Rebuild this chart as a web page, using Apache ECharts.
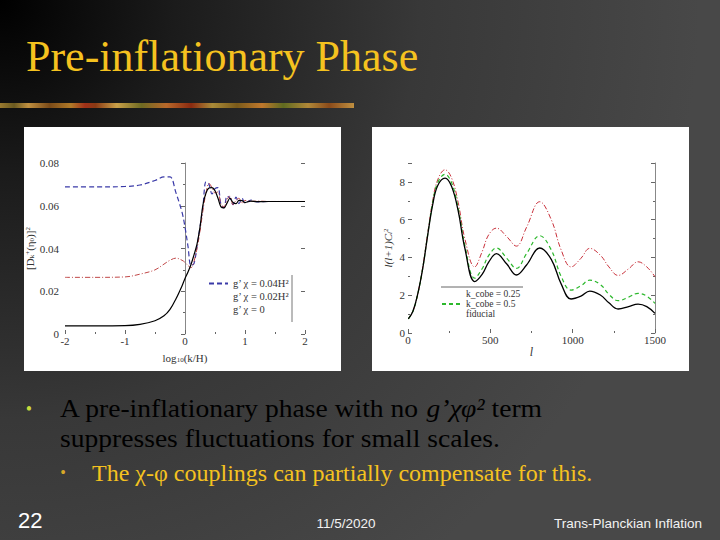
<!DOCTYPE html>
<html><head><meta charset="utf-8">
<script src="https://cdn.jsdelivr.net/npm/echarts@6/dist/echarts.min.js"></script>
<style>html,body{margin:0;padding:0;background:#474747;}#c{width:720px;height:540px;}</style>
</head><body><div id="c"></div>
<script>
// ---- Left panel: |D_k(eta0)|^2 vs log10(k/H) ----
const logK = [-2, -1.5, -1, -0.75, -0.5, -0.35, -0.25, -0.15, -0.05, 0, 0.05, 0.1, 0.15, 0.2, 0.25, 0.3, 0.35, 0.4, 0.45, 0.5, 0.55, 0.6, 0.65, 0.7, 0.75, 0.8, 0.85, 0.9, 0.95, 1.0, 1.1, 1.2, 1.4, 2];
const spec004 = [0.0688, 0.0688, 0.069, 0.0697, 0.0718, 0.0735, 0.0735, 0.066, 0.057, 0.050, 0.041, 0.032, 0.033, 0.041, 0.050, 0.060, 0.0712, 0.070, 0.0655, 0.068, 0.0685, 0.0605, 0.059, 0.0645, 0.0635, 0.0605, 0.064, 0.061, 0.0635, 0.0612, 0.0627, 0.0618, 0.062, 0.062];
const spec002 = [0.0265, 0.0265, 0.0267, 0.028, 0.030, 0.0327, 0.0345, 0.0355, 0.0345, 0.0335, 0.032, 0.031, 0.034, 0.040, 0.048, 0.058, 0.066, 0.0705, 0.0685, 0.066, 0.0665, 0.0605, 0.0595, 0.063, 0.0645, 0.0605, 0.0625, 0.0635, 0.061, 0.0625, 0.062, 0.0622, 0.062, 0.062];
const spec000 = [0.0038, 0.0038, 0.0039, 0.0045, 0.0062, 0.0085, 0.0115, 0.0165, 0.0225, 0.026, 0.029, 0.0325, 0.037, 0.042, 0.050, 0.0605, 0.066, 0.0683, 0.0685, 0.067, 0.0635, 0.0595, 0.059, 0.0612, 0.0635, 0.0615, 0.061, 0.0625, 0.0624, 0.0615, 0.0622, 0.0619, 0.062, 0.062];
const leftNames = ['g’ χ = 0.04H²', 'g’ χ = 0.02H²', 'g’ χ = 0'];

// ---- Right panel: l(l+1)C_l vs l ----
const ell = [2, 30, 60, 90, 120, 150, 180, 225, 265, 305, 345, 405, 450, 490, 537, 600, 658, 720, 800, 870, 930, 990, 1050, 1104, 1170, 1220, 1276, 1340, 1397, 1450, 1500];
const clCobe025 = [0.75, 1.15, 2.1, 3.5, 5.3, 7.0, 8.1, 8.64, 8.2, 6.9, 5.0, 3.5, 4.3, 5.2, 5.55, 5.1, 4.6, 5.6, 6.95, 6.0, 4.4, 3.5, 3.95, 4.48, 4.1, 3.5, 3.05, 3.4, 3.77, 3.5, 2.98];
const clCobe05 = [0.75, 1.15, 2.1, 3.45, 5.25, 6.9, 7.95, 8.4, 7.95, 6.6, 4.65, 2.9, 3.4, 4.1, 4.5, 3.95, 3.42, 4.2, 5.15, 4.4, 3.0, 2.27, 2.5, 2.8, 2.55, 2.05, 1.71, 1.9, 2.1, 1.95, 1.57];
const clFiducial = [0.75, 1.15, 2.1, 3.45, 5.2, 6.8, 7.8, 8.2, 7.75, 6.45, 4.5, 2.72, 3.1, 3.75, 4.2, 3.65, 3.07, 3.6, 4.5, 3.9, 2.6, 1.8, 1.95, 2.22, 2.0, 1.6, 1.27, 1.4, 1.53, 1.4, 1.04];
const rightNames = ['k_cobe = 0.25', 'k_cobe = 0.5', 'fiducial'];

// ---- Slide text ----
const slideTitle = 'Pre-inflationary Phase';
const footerLeft = '22';
const footerDate = '11/5/2020';
const footerRight = 'Trans-Planckian Inflation';

const SERIF = '"Liberation Serif", "Times New Roman", serif';
const SANS = '"Liberation Sans", Arial, sans-serif';
const GOLD = '#F5C21F';
const pair = (xs, ys) => xs.map((x, i) => [x, ys[i]]);

const chart = echarts.init(document.getElementById('c'), null, {renderer: 'svg', width: 720, height: 540});

const axisLbl = {fontFamily: SERIF, fontSize: 11, color: '#333', formatter: v => String(v)};
const tickStyle = {color: '#666', width: 1};
const hideSym = {opacity: 0};
const hideAll = {lineStyle: {opacity: 0}, itemStyle: {opacity: 0}};

const option = {
  backgroundColor: '#474747',
  animation: false,
  title: {
    text: slideTitle, left: 26, top: 34, padding: 0,
    textStyle: {fontFamily: SERIF, fontSize: 44, fontWeight: 'normal', color: GOLD}
  },
  graphic: [
    {type: 'rect', z: -100, silent: true, shape: {x: 0, y: 0, width: 720, height: 540},
      style: {fill: {type: 'radial', x: 0, y: 0, r: 700, global: true,
        colorStops: [{offset: 0, color: '#000'}, {offset: 0.25, color: '#1b1b1b'}, {offset: 0.6, color: '#383838'}, {offset: 1, color: '#484848'}]}}},
    {type: 'rect', z: -90, silent: true, shape: {x: 0, y: 103, width: 354, height: 5},
      style: {fill: {type: 'linear', x: 0, y: 0, x2: 1, y2: 0,
        colorStops: [
          {offset: 0, color: '#9a7a30'}, {offset: 0.04, color: '#6a5a20'}, {offset: 0.08, color: '#c09040'}, {offset: 0.14, color: '#7a4a18'},
          {offset: 0.2, color: '#b07a28'}, {offset: 0.24, color: '#a03018'}, {offset: 0.27, color: '#8a3a14'}, {offset: 0.33, color: '#c9a048'},
          {offset: 0.4, color: '#6e6a22'}, {offset: 0.47, color: '#b8682a'}, {offset: 0.54, color: '#8a2a10'},
          {offset: 0.6, color: '#a88a38'}, {offset: 0.67, color: '#7a5a1a'}, {offset: 0.74, color: '#c0782c'},
          {offset: 0.8, color: '#5f6a20'}, {offset: 0.87, color: '#b08838'}, {offset: 0.93, color: '#8a4a1a'},
          {offset: 1, color: '#c09040'}]}}},
    {type: 'rect', z: -50, silent: true, shape: {x: 24, y: 127, width: 317, height: 244}, style: {fill: '#ffffff'}},
    {type: 'rect', z: -50, silent: true, shape: {x: 372, y: 127, width: 317, height: 244}, style: {fill: '#ffffff'}},
    {type: 'line', silent: true, shape: {x1: 292, y1: 275, x2: 292, y2: 322}, style: {stroke: '#777', lineWidth: 1}},
    {type: 'line', silent: true, shape: {x1: 441, y1: 287, x2: 523, y2: 287}, style: {stroke: '#666', lineWidth: 1}},
    // bullets
    {type: 'text', silent: true, style: {x: 29, y: 409, text: '•', fill: '#C8DC3C', font: '18px ' + SERIF, align: 'center', verticalAlign: 'middle'}},
    {type: 'text', silent: true, x: 60, y: 393.8, scaleX: 1.06,
      style: {x: 0, y: 0, verticalAlign: 'top',
      text: '{w|A pre-inflationary phase with no }{g|g’χφ²}{w| term}\n{w|suppresses fluctuations for small scales.}',
      rich: {w: {fontFamily: SERIF, fontSize: 26, lineHeight: 29.5, color: '#ffffff'}, g: {fontFamily: SERIF, fontStyle: 'italic', fontSize: 26, lineHeight: 29.5, color: GOLD}}}},
    {type: 'text', silent: true, style: {x: 63, y: 472, text: '•', fill: '#D8A828', font: '16px ' + SERIF, align: 'center', verticalAlign: 'middle'}},
    {type: 'text', silent: true, style: {x: 92, y: 472.5, verticalAlign: 'middle', text: 'The χ-φ couplings can partially compensate for this.', fill: GOLD, font: '24px ' + SERIF}},
    // footer
    {type: 'text', silent: true, style: {x: 18, y: 520.5, verticalAlign: 'middle', text: footerLeft, fill: '#ffffff', font: '22px ' + SANS}},
    {type: 'text', silent: true, style: {x: 346, y: 523, align: 'center', verticalAlign: 'middle', text: footerDate, fill: '#f2f2f2', font: '13.5px ' + SANS}},
    {type: 'text', silent: true, style: {x: 702, y: 523, align: 'right', verticalAlign: 'middle', text: footerRight, fill: '#f2f2f2', font: '13.5px ' + SANS}}
  ],
  legend: [
    {orient: 'vertical', left: 208, top: 278, padding: 0, itemWidth: 19, itemHeight: 8, itemGap: 2, selectedMode: false,
      textStyle: {fontFamily: SERIF, fontSize: 10.5, color: '#333'},
      data: [Object.assign({name: leftNames[0]}, {itemStyle: hideSym}),
             Object.assign({name: leftNames[1]}, hideAll),
             Object.assign({name: leftNames[2]}, hideAll)]},
    {orient: 'vertical', left: 441, top: 289, padding: 0, itemWidth: 19, itemHeight: 8, itemGap: 0, selectedMode: false,
      textStyle: {fontFamily: SERIF, fontSize: 9.5, color: '#333'},
      data: [Object.assign({name: rightNames[0]}, hideAll),
             Object.assign({name: rightNames[1]}, {itemStyle: hideSym}),
             Object.assign({name: rightNames[2]}, hideAll)]}
  ],
  grid: [
    {left: 65, right: 415, top: 163, bottom: 206, outerBoundsMode: 'none'},
    {left: 408, right: 65, top: 163, bottom: 207, outerBoundsMode: 'none'}
  ],
  xAxis: [
    {gridIndex: 0, type: 'value', min: -2, max: 2, interval: 1,
      axisLine: {show: false}, splitLine: {show: false},
      axisTick: {show: true, inside: true, length: 4, lineStyle: tickStyle},
      minorTick: {show: true, splitNumber: 2, length: 2, lineStyle: tickStyle},
      axisLabel: Object.assign({margin: 1}, axisLbl),
      name: '{a|log}{s|10}{a|(k/H)}', nameLocation: 'middle', nameGap: 18,
      nameTextStyle: {rich: {a: {fontFamily: SERIF, fontSize: 11, color: '#333'}, s: {fontFamily: SERIF, fontSize: 7, color: '#333', verticalAlign: 'bottom', padding: [4, 0, 0, 0]}}}},
    {gridIndex: 1, type: 'value', min: 0, max: 1500, interval: 500,
      axisLine: {show: false}, splitLine: {show: false},
      axisTick: {show: true, inside: true, length: 4, lineStyle: tickStyle},
      minorTick: {show: true, splitNumber: 2, length: 2, lineStyle: tickStyle},
      axisLabel: Object.assign({margin: 1}, axisLbl),
      name: 'l', nameLocation: 'middle', nameGap: 12,
      nameTextStyle: {fontFamily: SERIF, fontStyle: 'italic', fontSize: 12, color: '#333'}}
  ],
  yAxis: [
    {gridIndex: 0, type: 'value', min: 0, max: 0.08, interval: 0.02, position: 'left',
      axisLine: {show: true, lineStyle: {color: '#888', width: 1}}, splitLine: {show: false},
      axisTick: {show: true, inside: false, length: 4, lineStyle: tickStyle},
      minorTick: {show: true, splitNumber: 2, length: 2, lineStyle: tickStyle},
      axisLabel: Object.assign({margin: 6}, axisLbl),
      name: '{a|[D}{s|k}{p|+}{a|(η}{s|0}{a|)]}{p|2}', nameLocation: 'middle', nameGap: 29,
      nameTextStyle: {rich: {
        a: {fontFamily: SERIF, fontSize: 11, color: '#333'},
        s: {fontFamily: SERIF, fontSize: 7, color: '#333', verticalAlign: 'bottom', padding: [4, 0, 0, 0]},
        p: {fontFamily: SERIF, fontSize: 7, color: '#333', verticalAlign: 'top', padding: [0, 0, 4, 0]}}}},
    {gridIndex: 0, type: 'value', min: 0, max: 0.08, interval: 0.02, position: 'right',
      axisLine: {show: false}, splitLine: {show: false}, axisLabel: {show: false},
      axisTick: {show: true, inside: true, length: 4, lineStyle: tickStyle}},
    {gridIndex: 1, type: 'value', min: 0, max: 9, interval: 2, position: 'left',
      axisLine: {show: false}, splitLine: {show: false},
      axisTick: {show: true, inside: true, length: 4, lineStyle: tickStyle},
      minorTick: {show: true, splitNumber: 2, length: 2, lineStyle: tickStyle},
      axisLabel: Object.assign({margin: 3, showMaxLabel: false}, axisLbl),
      name: '{a|l(l+1)C}{s|l}{p|2}', nameLocation: 'middle', nameGap: 15,
      nameTextStyle: {rich: {
        a: {fontFamily: SERIF, fontStyle: 'italic', fontSize: 11, color: '#333'},
        s: {fontFamily: SERIF, fontStyle: 'italic', fontSize: 7, color: '#333', verticalAlign: 'bottom', padding: [4, 0, 0, 0]},
        p: {fontFamily: SERIF, fontSize: 7, color: '#333', verticalAlign: 'top', padding: [0, 0, 4, 0]}}}},
    {gridIndex: 1, type: 'value', min: 0, max: 9, interval: 2, position: 'right',
      axisLine: {show: true, lineStyle: {color: '#888', width: 1}}, splitLine: {show: false}, axisLabel: {show: false},
      axisTick: {show: true, inside: true, length: 4, lineStyle: tickStyle},
      minorTick: {show: true, splitNumber: 2, length: 2, lineStyle: tickStyle}}
  ],
  series: [
    {name: leftNames[0], type: 'line', xAxisIndex: 0, yAxisIndex: 0, data: pair(logK, spec004), symbol: 'none', smooth: 0.35,
      itemStyle: {color: '#3a3aa8'}, lineStyle: {color: '#3a3aa8', width: 1.2, type: [5, 3]}},
    {name: leftNames[1], type: 'line', xAxisIndex: 0, yAxisIndex: 0, data: pair(logK, spec002), symbol: 'none', smooth: 0.35,
      itemStyle: {color: '#c04848'}, lineStyle: {color: '#c04848', width: 1, type: [5, 2, 1, 2]}},
    {name: leftNames[2], type: 'line', xAxisIndex: 0, yAxisIndex: 0, data: pair(logK, spec000), symbol: 'none', smooth: 0.35,
      itemStyle: {color: '#000'}, lineStyle: {color: '#000', width: 1.2}},
    {name: rightNames[0], type: 'line', xAxisIndex: 1, yAxisIndex: 2, data: pair(ell, clCobe025), symbol: 'none', smooth: 0.4,
      itemStyle: {color: '#c8303a'}, lineStyle: {color: '#c8303a', width: 1, type: [5, 2, 1, 2]}},
    {name: rightNames[1], type: 'line', xAxisIndex: 1, yAxisIndex: 2, data: pair(ell, clCobe05), symbol: 'none', smooth: 0.4,
      itemStyle: {color: '#2cb82c'}, lineStyle: {color: '#2cb82c', width: 1.2, type: [4, 3]}},
    {name: rightNames[2], type: 'line', xAxisIndex: 1, yAxisIndex: 2, data: pair(ell, clFiducial), symbol: 'none', smooth: 0.4,
      itemStyle: {color: '#000'}, lineStyle: {color: '#000', width: 1.3}}
  ]
};
chart.setOption(option);
</script>
</body></html>
